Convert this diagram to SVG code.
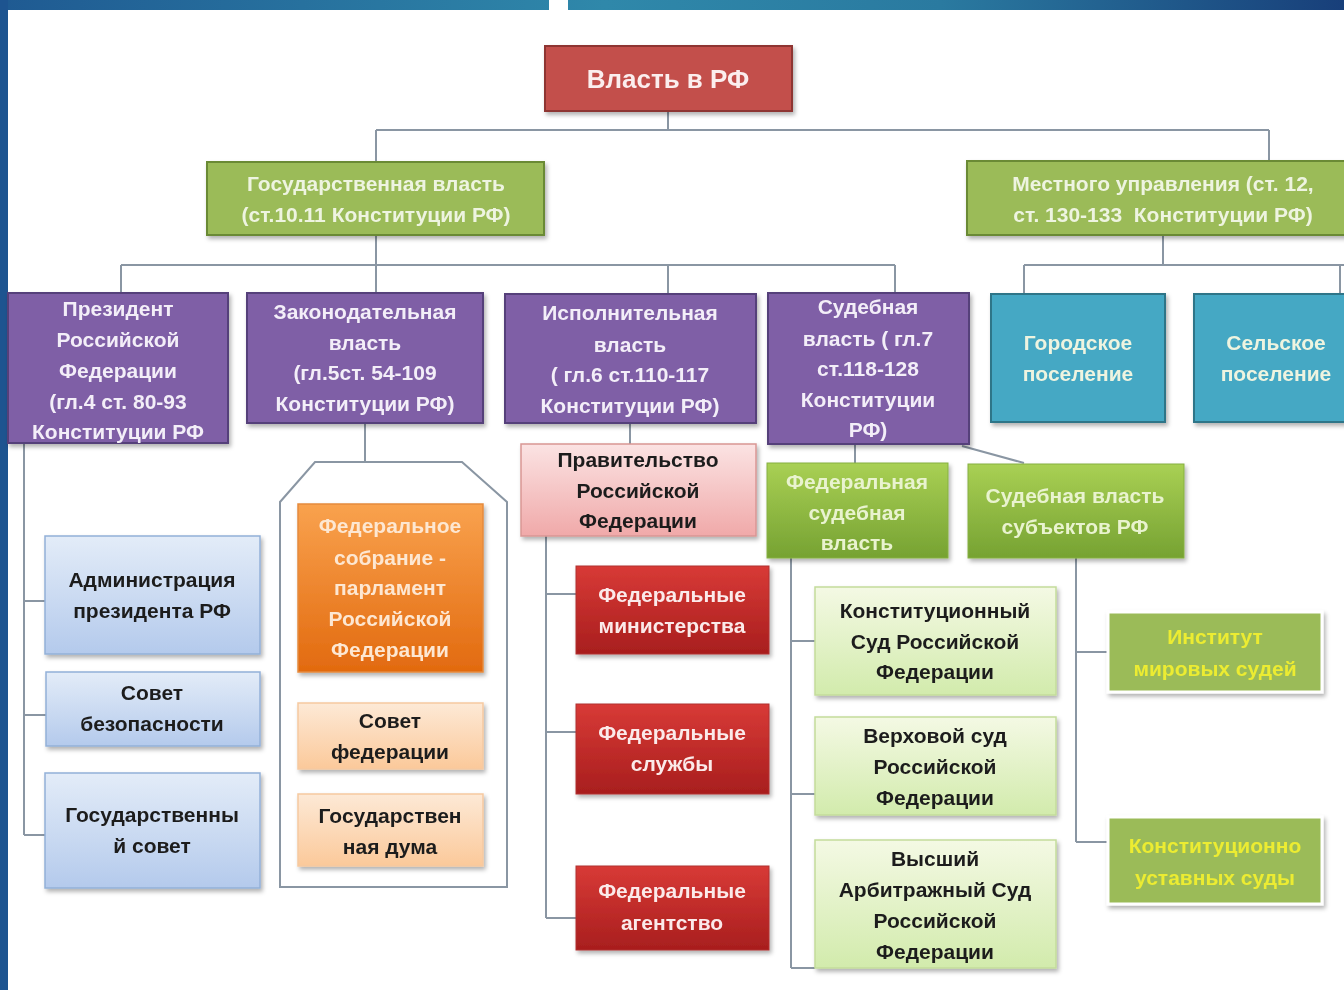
<svg xmlns="http://www.w3.org/2000/svg" width="1344" height="990" viewBox="0 0 1344 990">
<style>
text{font-family:"Liberation Sans","Noto Sans",Arial,sans-serif;font-size:21px;font-weight:bold;text-anchor:middle;dominant-baseline:central}
.lt{fill:#f3eef8}
.dk{fill:#1e1e1e}
.gt{fill:#eef4e0}
.yt{fill:#ecec30}
.con{fill:none;stroke:#8a96a3;stroke-width:2}
.sh{filter:url(#ds)}
</style>
<defs>
<filter id="ds" x="-10%" y="-10%" width="125%" height="130%"><feDropShadow dx="2" dy="3" stdDeviation="2" flood-color="#000" flood-opacity="0.3"/></filter>
<linearGradient id="band" x1="0" y1="0" x2="1" y2="0"><stop offset="0" stop-color="#1f5a92"/><stop offset="0.45" stop-color="#2f88aa"/><stop offset="0.7" stop-color="#2a7aa0"/><stop offset="1" stop-color="#183f7a"/></linearGradient>
<linearGradient id="gBlue" x1="0" y1="0" x2="0" y2="1"><stop offset="0" stop-color="#e3ecf8"/><stop offset="1" stop-color="#b4caec"/></linearGradient>
<linearGradient id="gOr" x1="0" y1="0" x2="0" y2="1"><stop offset="0" stop-color="#f9a24e"/><stop offset="1" stop-color="#e26a0f"/></linearGradient>
<linearGradient id="gLOr" x1="0" y1="0" x2="0" y2="1"><stop offset="0" stop-color="#fde9d6"/><stop offset="1" stop-color="#fbc99a"/></linearGradient>
<linearGradient id="gPink" x1="0" y1="0" x2="0" y2="1"><stop offset="0" stop-color="#fbe3e3"/><stop offset="1" stop-color="#f0a9a9"/></linearGradient>
<linearGradient id="gRed" x1="0" y1="0" x2="0" y2="1"><stop offset="0" stop-color="#d83a36"/><stop offset="1" stop-color="#a81e1e"/></linearGradient>
<linearGradient id="gGreen" x1="0" y1="0" x2="0" y2="1"><stop offset="0" stop-color="#a9d054"/><stop offset="1" stop-color="#76a232"/></linearGradient>
<linearGradient id="gLGreen" x1="0" y1="0" x2="0" y2="1"><stop offset="0" stop-color="#f4f9e4"/><stop offset="1" stop-color="#d2ebac"/></linearGradient>
</defs>
<rect x="0" y="0" width="1344" height="990" fill="#ffffff"/>
<rect x="0" y="0" width="1344" height="10" fill="url(#band)"/>
<rect x="549" y="0" width="19" height="10" fill="#ffffff"/>
<rect x="0" y="0" width="8" height="990" fill="#1d5490"/>

<g id="connectors">
<path class="con" d="M668,111 V130 M376,130 H1269 M376,130 V162 M1269,130 V161"/>
<path class="con" d="M376,235 V265 M121,265 H895 M121,265 V293 M376,265 V293 M668,265 V294 M895,265 V293"/>
<path class="con" d="M1163,235 V265 M1024,265 H1344 M1024,265 V294 M1340,265 V294"/>
<path class="con" d="M24,443 V835 M24,601 H45 M24,715 H46 M24,835 H45"/>
<path class="con" d="M365,423 V462"/>
<path class="con" d="M315,462 H462 L507,502 V887 H280 V502 Z"/>
<path class="con" d="M630,423 V444"/>
<path class="con" d="M546,536 V918 M546,594 H576 M546,732 H576 M546,918 H576"/>
<path class="con" d="M855,444 V463 M962,446 L1024,463"/>
<path class="con" d="M791,558 V968 M791,641 H815 M791,794 H815 M791,968 H815"/>
<path class="con" d="M1076,558 V842 M1076,652 H1108 M1076,842 H1108"/>
</g>

<g id="root" class="sh"><rect x="545" y="46" width="247" height="65" fill="#c3504c" stroke="#8e3532" stroke-width="2"/><text x="668" y="79" style="font-size:26px" fill="#fbeeee">Власть в РФ</text></g>

<g id="gos" class="sh"><rect x="207" y="162" width="337" height="73" fill="#9bbb59" stroke="#6b8a36" stroke-width="2"/><text x="376" y="183" class="gt">Государственная власть</text><text x="376" y="214" class="gt">(ст.10.11 Конституции РФ)</text></g>

<g id="mest" class="sh"><rect x="967" y="161" width="385" height="74" fill="#9bbb59" stroke="#6b8a36" stroke-width="2"/><text x="1163" y="183" class="gt">Местного управления (ст. 12,</text><text x="1163" y="214" class="gt" xml:space="preserve">ст. 130-133  Конституции РФ)</text></g>

<g id="president" class="sh"><rect x="8" y="293" width="220" height="150" fill="#7f5fa6" stroke="#54407a" stroke-width="2"/><text x="118" y="308" class="lt">Президент</text><text x="118" y="339" class="lt">Российской</text><text x="118" y="370" class="lt">Федерации</text><text x="118" y="401" class="lt">(гл.4 ст. 80-93</text><text x="118" y="431" class="lt">Конституции РФ</text></g>

<g id="zakon" class="sh"><rect x="247" y="293" width="236" height="130" fill="#7f5fa6" stroke="#54407a" stroke-width="2"/><text x="365" y="311" class="lt">Законодательная</text><text x="365" y="342" class="lt">власть</text><text x="365" y="372" class="lt">(гл.5ст. 54-109</text><text x="365" y="403" class="lt">Конституции РФ)</text></g>

<g id="ispoln" class="sh"><rect x="505" y="294" width="251" height="129" fill="#7f5fa6" stroke="#54407a" stroke-width="2"/><text x="630" y="312" class="lt">Исполнительная</text><text x="630" y="344" class="lt">власть</text><text x="630" y="374" class="lt">( гл.6 ст.110-117</text><text x="630" y="405" class="lt">Конституции РФ)</text></g>

<g id="sud" class="sh"><rect x="768" y="293" width="201" height="151" fill="#7f5fa6" stroke="#54407a" stroke-width="2"/><text x="868" y="306" class="lt">Судебная</text><text x="868" y="338" class="lt">власть ( гл.7</text><text x="868" y="368" class="lt">ст.118-128</text><text x="868" y="399" class="lt">Конституции</text><text x="868" y="429" class="lt">РФ)</text></g>

<g id="gorod" class="sh"><rect x="991" y="294" width="174" height="128" fill="#45a8c4" stroke="#2f7488" stroke-width="2"/><text x="1078" y="342" class="gt">Городское</text><text x="1078" y="373" class="gt">поселение</text></g>

<g id="selsk" class="sh"><rect x="1194" y="294" width="160" height="128" fill="#45a8c4" stroke="#2f7488" stroke-width="2"/><text x="1276" y="342" class="gt">Сельское</text><text x="1276" y="373" class="gt">поселение</text></g>

<g id="admin" class="sh"><rect x="45" y="536" width="215" height="118" fill="url(#gBlue)" stroke="#93b0d8" stroke-width="1.5"/><text x="152" y="579" class="dk">Администрация</text><text x="152" y="610" class="dk">президента РФ</text></g>

<g id="sovbez" class="sh"><rect x="46" y="672" width="214" height="74" fill="url(#gBlue)" stroke="#93b0d8" stroke-width="1.5"/><text x="152" y="692" class="dk">Совет</text><text x="152" y="723" class="dk">безопасности</text></g>

<g id="gossovet" class="sh"><rect x="45" y="773" width="215" height="115" fill="url(#gBlue)" stroke="#93b0d8" stroke-width="1.5"/><text x="152" y="814" class="dk">Государственны</text><text x="152" y="845" class="dk">й совет</text></g>

<g id="fedsobr" class="sh"><rect x="298" y="504" width="185" height="168" fill="url(#gOr)" stroke="#e58a3c" stroke-width="1.5"/><text x="390" y="525" fill="#fde7d2">Федеральное</text><text x="390" y="557" fill="#fde7d2">собрание -</text><text x="390" y="587" fill="#fde7d2">парламент</text><text x="390" y="618" fill="#fde7d2">Российской</text><text x="390" y="649" fill="#fde7d2">Федерации</text></g>

<g id="sovfed" class="sh"><rect x="298" y="703" width="185" height="66" fill="url(#gLOr)" stroke="#f6c9a0" stroke-width="1.5"/><text x="390" y="720" class="dk">Совет</text><text x="390" y="751" class="dk">федерации</text></g>

<g id="gosduma" class="sh"><rect x="298" y="794" width="185" height="72" fill="url(#gLOr)" stroke="#f6c9a0" stroke-width="1.5"/><text x="390" y="815" class="dk">Государствен</text><text x="390" y="846" class="dk">ная дума</text></g>

<g id="pravit" class="sh"><rect x="521" y="444" width="235" height="92" fill="url(#gPink)" stroke="#d99694" stroke-width="1.5"/><text x="638" y="459" class="dk">Правительство</text><text x="638" y="490" class="dk">Российской</text><text x="638" y="520" class="dk">Федерации</text></g>

<g id="minist" class="sh"><rect x="576" y="566" width="193" height="88" fill="url(#gRed)" stroke="#b03030" stroke-width="1"/><text x="672" y="594" fill="#fbeaea">Федеральные</text><text x="672" y="625" fill="#fbeaea">министерства</text></g>

<g id="sluzhby" class="sh"><rect x="576" y="704" width="193" height="90" fill="url(#gRed)" stroke="#b03030" stroke-width="1"/><text x="672" y="732" fill="#fbeaea">Федеральные</text><text x="672" y="763" fill="#fbeaea">службы</text></g>

<g id="agent" class="sh"><rect x="576" y="866" width="193" height="84" fill="url(#gRed)" stroke="#b03030" stroke-width="1"/><text x="672" y="890" fill="#fbeaea">Федеральные</text><text x="672" y="922" fill="#fbeaea">агентство</text></g>

<g id="fedsud" class="sh"><rect x="767" y="463" width="181" height="95" fill="url(#gGreen)" stroke="#86b040" stroke-width="1"/><text x="857" y="481" fill="#e9f3cf">Федеральная</text><text x="857" y="512" fill="#e9f3cf">судебная</text><text x="857" y="542" fill="#e9f3cf">власть</text></g>

<g id="subsud" class="sh"><rect x="968" y="464" width="216" height="94" fill="url(#gGreen)" stroke="#86b040" stroke-width="1"/><text x="1075" y="495" fill="#e9f3cf">Судебная власть</text><text x="1075" y="526" fill="#e9f3cf">субъектов РФ</text></g>

<g id="ks" class="sh"><rect x="815" y="587" width="241" height="108" fill="url(#gLGreen)" stroke="#c3dc9b" stroke-width="1.5"/><text x="935" y="610" class="dk">Конституционный</text><text x="935" y="641" class="dk">Суд Российской</text><text x="935" y="671" class="dk">Федерации</text></g>

<g id="vs" class="sh"><rect x="815" y="717" width="241" height="98" fill="url(#gLGreen)" stroke="#c3dc9b" stroke-width="1.5"/><text x="935" y="735" class="dk">Верховой суд</text><text x="935" y="766" class="dk">Российской</text><text x="935" y="797" class="dk">Федерации</text></g>

<g id="vas" class="sh"><rect x="815" y="840" width="241" height="128" fill="url(#gLGreen)" stroke="#c3dc9b" stroke-width="1.5"/><text x="935" y="858" class="dk">Высший</text><text x="935" y="889" class="dk">Арбитражный Суд</text><text x="935" y="920" class="dk">Российской</text><text x="935" y="951" class="dk">Федерации</text></g>

<g id="mirsud" class="sh"><rect x="1108" y="612" width="214" height="80" fill="#9bbb59" stroke="#ffffff" stroke-width="3"/><text x="1215" y="636" class="yt">Институт</text><text x="1215" y="668" class="yt">мировых судей</text></g>

<g id="ustsud" class="sh"><rect x="1108" y="817" width="214" height="87" fill="#9bbb59" stroke="#ffffff" stroke-width="3"/><text x="1215" y="845" class="yt">Конституционно</text><text x="1215" y="877" class="yt">уставных суды</text></g>
</svg>
